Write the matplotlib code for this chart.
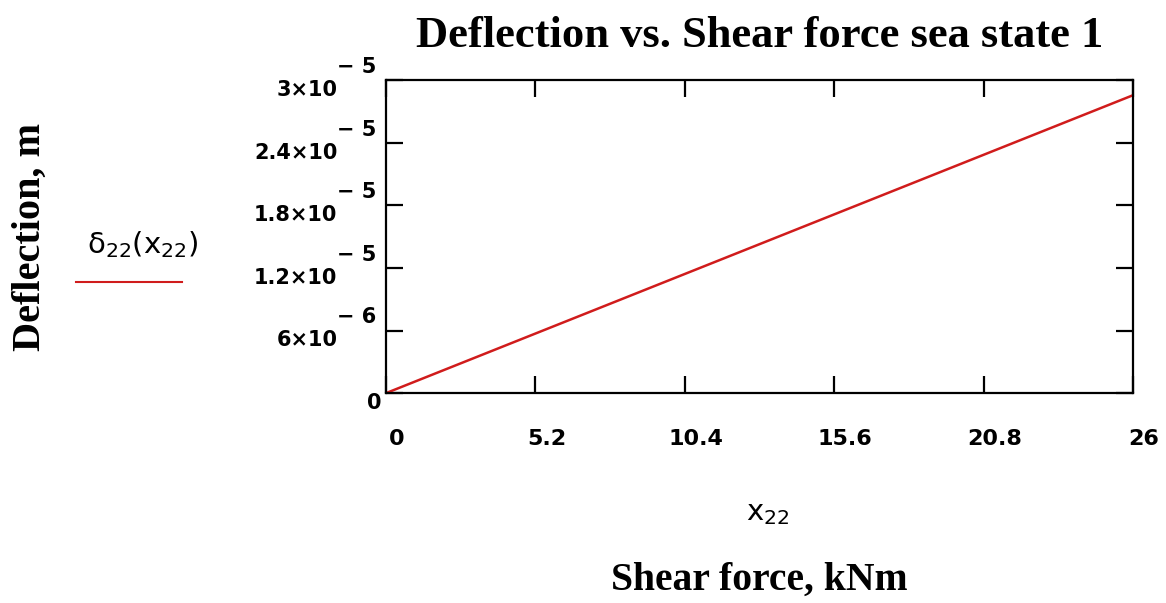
import numpy as np
import matplotlib
matplotlib.use('Agg')
from matplotlib import pyplot as plt
from matplotlib import transforms
from matplotlib.lines import Line2D

# data
shear_force = [0.0, 26.0]
deflection = [0.0, 2.856e-5]

x_ticks = [0, 5.2, 10.4, 15.6, 20.8, 26]
x_tick_labels = ['0', '5.2', '10.4', '15.6', '20.8', '26']
y_ticks = [0, 6e-6, 1.2e-5, 1.8e-5, 2.4e-5, 3e-5]
y_mantissas = ['0', '6\u00d710', '1.2\u00d710', '1.8\u00d710', '2.4\u00d710', '3\u00d710']
y_exponents = ['', '\u2212 6', '\u2212 5', '\u2212 5', '\u2212 5', '\u2212 5']

title = 'Deflection vs. Shear force sea state 1'
x_label = 'Shear force, kNm'
y_label = 'Deflection, m'

serif = 'Liberation Serif'
sans = 'DejaVu Sans'
red = '#d01c1c'

fig = plt.figure(figsize=(11.66, 6.03), dpi=100)
ax = fig.add_axes([0.331, 0.348, 0.6407, 0.519])

ax.plot(shear_force, deflection, color=red, lw=1.8, solid_capstyle='butt')

ax.set_xlim(0, 26)
ax.set_ylim(0, 3e-5)
for s in ax.spines.values():
    s.set_linewidth(1.6)

ax.set_xticks(x_ticks)
ax.set_xticklabels(x_tick_labels, family=sans, fontsize=16, fontweight='bold')
ax.set_yticks(y_ticks)
ax.set_yticklabels([])
ax.tick_params(direction='in', length=12, width=1.6, top=True, right=True)
ax.tick_params(axis='x', pad=26)
shift = transforms.ScaledTranslation(8 / 72, 0, fig.dpi_scale_trans)
for lab in ax.get_xticklabels():
    lab.set_transform(lab.get_transform() + shift)

# Mathcad style y tick labels: mantissa with raised exponent
blend = transforms.blended_transform_factory(ax.transAxes, ax.transData)
for val, mant, exp in zip(y_ticks, y_mantissas, y_exponents):
    if exp == '':
        tr = transforms.offset_copy(blend, fig=fig, x=-3, y=-7, units='points')
        ax.text(0, val, mant, transform=tr, ha='right', va='center',
                family=sans, fontsize=15, fontweight='bold', clip_on=False)
        continue
    tr_m = transforms.offset_copy(blend, fig=fig, x=-35, y=-7, units='points')
    ax.text(0, val, mant, transform=tr_m, ha='right', va='center',
            family=sans, fontsize=15, fontweight='bold', clip_on=False)
    tr_e = transforms.offset_copy(blend, fig=fig, x=-35, y=9.5, units='points')
    ax.text(0, val, exp, transform=tr_e, ha='left', va='center',
            family=sans, fontsize=15, fontweight='bold', clip_on=False)

ax.set_title(title, family=serif, fontweight='bold', fontsize=32, pad=24)

fig.text(0.651, 0.038, x_label, family=serif, fontweight='bold', fontsize=28.5,
         ha='center', va='center')
fig.text(0.658, 0.149, r'$\mathsf{x}_{\mathsf{22}}$', fontsize=21,
         ha='center', va='center')
fig.text(0.026, 0.607, y_label, family=serif, fontweight='bold', fontsize=29,
         rotation=90, ha='center', va='center')

# legend entry
fig.text(0.122, 0.595, r'$\mathsf{\delta}_{\mathsf{22}}\left(\mathsf{x}_{\mathsf{22}}\right)$',
         fontsize=21, ha='center', va='center')
fig.add_artist(Line2D([0.065, 0.156], [0.532, 0.532], transform=fig.transFigure,
                      color=red, lw=1.5))

fig.savefig('out.png', dpi=100, facecolor='white')
